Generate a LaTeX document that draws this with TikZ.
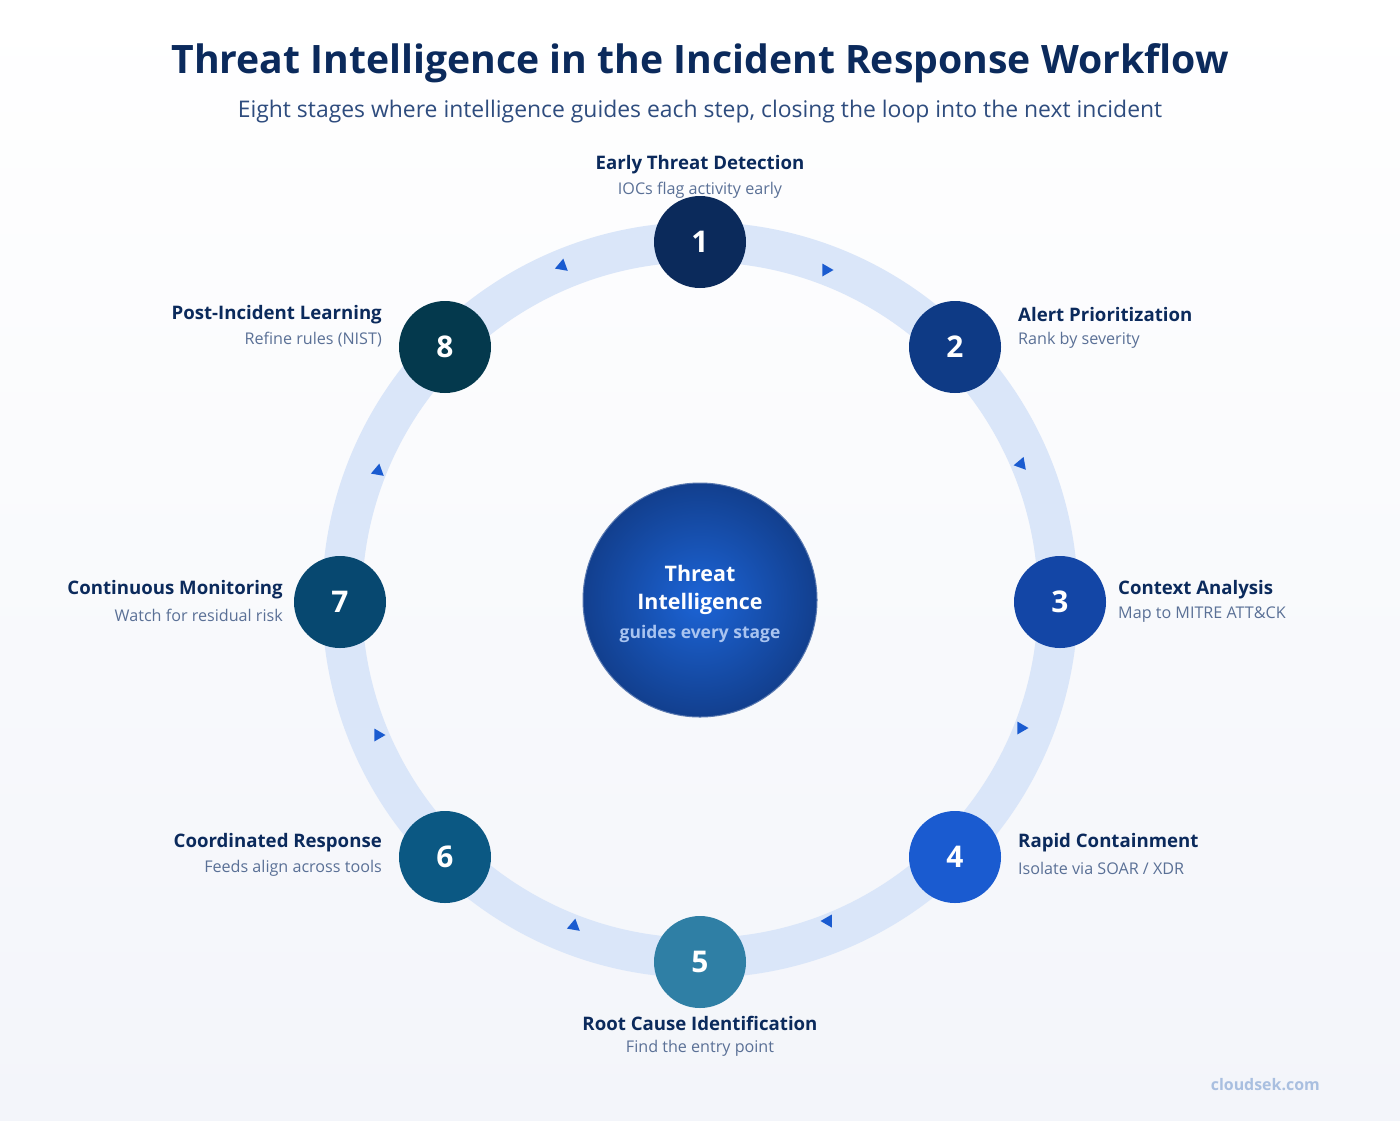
\documentclass[tikz,border=0pt]{standalone}
\usepackage{fontspec}
\setmainfont{Open Sans}
\usetikzlibrary{shapes.geometric}
\definecolor{navy}{HTML}{0B2A5C}
\definecolor{subc}{HTML}{2E4C7E}
\definecolor{descc}{HTML}{5A7096}
\definecolor{ringc}{HTML}{DAE6F9}
\definecolor{arrc}{HTML}{1A5BD0}
\definecolor{cA}{HTML}{0B2A5B}
\definecolor{cB}{HTML}{0E3A85}
\definecolor{cC}{HTML}{1346A6}
\definecolor{cD}{HTML}{1A5BD0}
\definecolor{cE}{HTML}{2F7FA5}
\definecolor{cF}{HTML}{0B5883}
\definecolor{cG}{HTML}{074870}
\definecolor{cH}{HTML}{04394D}
\definecolor{wmark}{HTML}{A9BFE0}
\definecolor{cin}{HTML}{1C64D6}
\definecolor{cout}{HTML}{123F8E}
\definecolor{gtext}{HTML}{A9C4F0}
\definecolor{bgbot}{HTML}{F3F5FA}
\begin{document}
\begin{tikzpicture}[x=1bp,y=-1bp,
  stage/.style={circle,minimum size=92bp,inner sep=0pt,text=white,font=\fontsize{30}{30}\selectfont\bfseries},
  ttl/.style={text=navy,font=\fontsize{18.7}{22}\selectfont\bfseries,inner sep=0pt},
  dsc/.style={text=descc,font=\fontsize{16.2}{18}\selectfont,inner sep=0pt},
  tri/.style={regular polygon,regular polygon sides=3,minimum size=15bp,inner sep=0pt,fill=arrc}]
\useasboundingbox (0,0) rectangle (1400,1120);
\shade[top color=white,bottom color=bgbot] (0,0) rectangle (1400,1120);
% title
\node[text=navy,font=\fontsize{39.3}{44}\selectfont\bfseries,inner sep=0pt] (title) at (700,63) {Threat Intelligence in the Incident Response Workflow};
\node[text=subc,font=\fontsize{23}{26}\selectfont,inner sep=0pt] (sub) at (700,112) {Eight stages where intelligence guides each step, closing the loop into the next incident};
% ring
\coordinate (C) at (700,600);
\draw[ringc,line width=40bp] (C) circle[radius=358bp];
% arrows
\node[tri,shape border rotate=-90] (a12) at (826,270) {};
\node[tri,shape border rotate=100] (a23) at (1021,464) {};
\node[tri,shape border rotate=-90] (a34) at (1021,728) {};
\node[tri,shape border rotate=90] (a45) at (828,921) {};
\node[tri,shape border rotate=110] (a56) at (574,926) {};
\node[tri,shape border rotate=-90] (a67) at (378,735) {};
\node[tri,shape border rotate=110] (a78) at (378,471) {};
\node[tri,shape border rotate=110] (a81) at (562,266) {};
% centre
\shade[inner color=cin,outer color=cout] (C) circle[radius=117bp];
\node[circle,draw=cout!70!white,line width=1bp,minimum size=234bp,inner sep=0pt] (hub) at (C) {};
\node[text=white,font=\fontsize{21.5}{28}\selectfont\bfseries,align=center,inner sep=0pt] (hubt) at (700,590) {Threat\\Intelligence};
\node[text=gtext,font=\fontsize{17.5}{20}\selectfont\bfseries,inner sep=0pt] (hubs) at (700,634) {guides every stage};
% stages
\node[stage,fill=cA] (n1) at (700,242) {1};
\node[stage,fill=cB] (n2) at (955,347) {2};
\node[stage,fill=cC] (n3) at (1060,602) {3};
\node[stage,fill=cD] (n4) at (955,857) {4};
\node[stage,fill=cE] (n5) at (700,962) {5};
\node[stage,fill=cF] (n6) at (445,857) {6};
\node[stage,fill=cG] (n7) at (340,602) {7};
\node[stage,fill=cH] (n8) at (445,347) {8};
% labels
\node[ttl] (t1) at (700,165) {Early Threat Detection};
\node[dsc] (d1) at (700,190) {IOCs flag activity early};
\node[ttl,anchor=west] (t2) at (1018,315) {Alert Prioritization};
\node[dsc,anchor=west] (d2) at (1018,340) {Rank by severity};
\node[ttl,anchor=west] (t3) at (1118,590) {Context Analysis};
\node[dsc,anchor=west] (d3) at (1118,615) {Map to MITRE ATT\&CK};
\node[ttl,anchor=west] (t4) at (1018,843) {Rapid Containment};
\node[dsc,anchor=west] (d4) at (1018,868) {Isolate via SOAR / XDR};
\node[ttl] (t5) at (700,1023) {Root Cause Identification};
\node[dsc] (d5) at (700,1048) {Find the entry point};
\node[ttl,anchor=east] (t6) at (382,843) {Coordinated Response};
\node[dsc,anchor=east] (d6) at (382,868) {Feeds align across tools};
\node[ttl,anchor=east] (t7) at (283,590) {Continuous Monitoring};
\node[dsc,anchor=east] (d7) at (283,615) {Watch for residual risk};
\node[ttl,anchor=east] (t8) at (382,315) {Post-Incident Learning};
\node[dsc,anchor=east] (d8) at (382,340) {Refine rules (NIST)};
\node[text=wmark,font=\fontsize{16}{18}\selectfont\bfseries,anchor=east,inner sep=0pt] (wm) at (1320,1085) {cloudsek.com};
\end{tikzpicture}
\end{document}
